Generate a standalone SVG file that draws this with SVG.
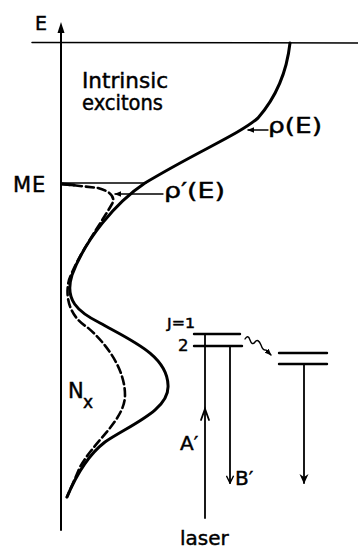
<svg xmlns="http://www.w3.org/2000/svg" width="358" height="552" viewBox="0 0 358 552">
<style>
.t{font-family:"DejaVu Sans",sans-serif;fill:#000;stroke:#000;stroke-width:0.45}
.ln{stroke:#000;fill:none;stroke-linecap:round}
</style>
<defs>
<marker id="open" viewBox="0 0 10 10" refX="9" refY="5" markerWidth="9" markerHeight="9" markerUnits="userSpaceOnUse" orient="auto">
<path d="M1,1 L9,5 L1,9" fill="none" stroke="#000" stroke-width="1.6"/>
</marker>
<marker id="head" viewBox="0 0 10 10" refX="9" refY="5" markerWidth="10" markerHeight="12" markerUnits="userSpaceOnUse" orient="auto">
<path d="M0,0.5 L10,5 L0,9.5 L3,5 Z" fill="#000"/>
</marker>
<marker id="small" viewBox="0 0 10 10" refX="9" refY="5" markerWidth="7" markerHeight="7" markerUnits="userSpaceOnUse" orient="auto">
<path d="M0,1 L10,5 L0,9 Z" fill="#000"/>
</marker>
</defs>
<g id="axes">
<line class="ln" x1="61" y1="530" x2="61" y2="26" stroke-width="2"/>
<path d="M57.5,33 L61,22 L64.5,33 Z" fill="#000"/>
<line class="ln" x1="32" y1="42.5" x2="358" y2="43" stroke-width="1.5"/>
<line class="ln" x1="61" y1="183" x2="146" y2="183" stroke-width="1.5"/>
</g>
<g id="curves">
<path id="rho" class="ln" stroke-width="3" d="M290,43 C287,70 278,95 258,118 C238,135 200,150 145,183 C115,203 85,240 72,275 C64,300 78,312 100,323 C130,340 167,355 168,385 C170,410 130,425 105,442 C88,455 75,478 67,497"/>
<path id="rhoprime" class="ln" stroke-width="2.6" stroke-dasharray="8,4" d="M62,184 L98,188 C110,191 116,197 112,204 C100,225 78,255 69,280 C64,300 72,318 87,327 C105,342 125,368 125,395 C125,420 95,440 80,467 L67,497"/>
<path class="ln" stroke-width="3" d="M62,184 L74,185"/>
</g>
<g id="leaders">
<line class="ln" x1="163" y1="194" x2="115" y2="194" stroke-width="1.3" marker-end="url(#small)"/>
<line class="ln" x1="268" y1="130" x2="248" y2="130" stroke-width="1.3" marker-end="url(#small)"/>
</g>
<g id="levels">
<line class="ln" x1="194" y1="334" x2="240" y2="334" stroke-width="2.4"/>
<line class="ln" x1="194" y1="346" x2="242" y2="346" stroke-width="2.4"/>
<line class="ln" x1="279" y1="353" x2="327" y2="353" stroke-width="2.4"/>
<line class="ln" x1="279" y1="364" x2="327" y2="364" stroke-width="2.4"/>
</g>
<g id="connectors">
<line class="ln" x1="205" y1="518" x2="205" y2="334" stroke-width="1.8"/>
<path class="ln" d="M201,420 L205,409 L209,420" stroke-width="1.8"/>
<line class="ln" x1="230" y1="346" x2="230" y2="483" stroke-width="1.8" marker-end="url(#open)"/>
<line class="ln" x1="304" y1="364" x2="304" y2="483" stroke-width="1.8" marker-end="url(#head)"/>
<path class="ln" stroke-width="1.4" d="M245,339 Q248,334 250,340 Q252,346 255,342 Q258,338 261,345 Q263,351 266,350 L271,355" marker-end="url(#small)"/>
</g>
<g id="labels">
<text class="t" x="35" y="30" font-size="19">E</text>
<text class="t" x="82" y="88" font-size="20.5" textLength="86" lengthAdjust="spacingAndGlyphs">Intrinsic</text>
<text class="t" x="82" y="110" font-size="20.5" textLength="81" lengthAdjust="spacingAndGlyphs">excitons</text>
<text class="t" x="13" y="192" font-size="21" letter-spacing="1">ME</text>
<text class="t" x="164" y="198" font-size="21" textLength="61" lengthAdjust="spacingAndGlyphs">ρ′(E)</text>
<text class="t" x="268" y="133" font-size="21" textLength="54" lengthAdjust="spacingAndGlyphs">ρ(E)</text>
<text class="t" x="68" y="398" font-size="21">N</text>
<text class="t" x="83" y="408" font-size="17">x</text>
<text class="t" x="167" y="328" font-size="14" textLength="28" lengthAdjust="spacingAndGlyphs">J=1</text>
<text class="t" x="178" y="351" font-size="16.5">2</text>
<text class="t" x="180" y="450" font-size="20">A′</text>
<text class="t" x="235" y="485" font-size="20">B′</text>
<text class="t" x="180" y="545" font-size="20">laser</text>
</g>
</svg>
